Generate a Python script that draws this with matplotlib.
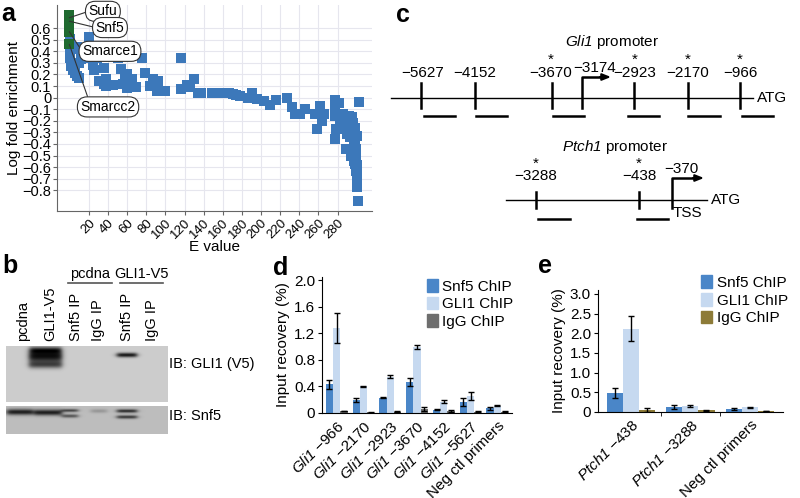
import numpy as np
import matplotlib
matplotlib.use("Agg")
import matplotlib.pyplot as plt
from matplotlib.patches import Patch
from matplotlib.ticker import FuncFormatter

plt.rcParams['font.family'] = ['Liberation Sans', 'DejaVu Sans']
# math mode is used only for italic gene names (letters and digits)
plt.rcParams['mathtext.fontset'] = 'custom'
plt.rcParams['mathtext.rm'] = 'Liberation Sans:italic'
plt.rcParams['mathtext.it'] = 'Liberation Sans:italic'

# ---------------- panel a data ----------------
hit_names = ["Sufu", "Snf5", "Smarce1", "Smarcc2"]
hit_anchor = [0.69, 0.66, 0.57, 0.46]
green_e = [-0.5, -0.5, -0.5, -0.5, -0.5]
green_lfe = [0.71, 0.67, 0.64, 0.57, 0.46]

e_vals = [0.5, 0.5, 0.5, 1.5, 3, 5, 7, 10, 8, 4, 12, 17, 20, 10, 28, 24, 25.5,
          31, 36, 38, 38, 36, 45, 50, 54, 56, 58, 60, 60, 62, 65, 69, 75, 79,
          84, 87, 88, 91.5, 92.5, 99.5, 116, 116, 123, 126, 130, 134, 137,
          148.5, 152, 161, 166, 170.5, 174, 177.5, 186, 191, 196, 203, 209.6,
          216, 227, 232, 236, 241, 246, 256, 258.6, 262, 264, 266, 277, 277,
          277, 278, 277.8, 282, 283, 286, 289, 288, 289, 290, 290, 292, 293,
          293, 294, 295, 296, 296, 297, 297, 297, 298, 298, 298, 298, 299, 299,
          299, 299, 299, 302, 300, 300, 300, 300, 300, 301]
lfe_vals = [0.51, 0.39, 0.34, 0.27, 0.24, 0.21, 0.19, 0.17, 0.44, 0.42, 0.33,
            0.34, 0.52, 0.30, 0.34, 0.28, 0.235, 0.14, 0.26, 0.16, 0.10, 0.12,
            0.11, 0.34, 0.25, 0.12, 0.17, 0.20, 0.08, 0.13, 0.16, 0.09, 0.34,
            0.21, 0.10, 0.16, 0.11, 0.06, 0.14, 0.06, 0.34, 0.075, 0.11, 0.09,
            0.16, 0.04, 0.04, 0.04, 0.04, 0.04, 0.04, 0.03, 0.02, 0.01, 0.00,
            0.04, -0.01, -0.03, -0.06, -0.02, 0.00, -0.085, -0.14, -0.14, -0.10,
            -0.14, -0.27, -0.07, -0.20, -0.14, -0.02, -0.10, -0.16, -0.27, -0.36,
            -0.05, -0.22, -0.14, -0.44, -0.18, -0.27, -0.31, -0.21, -0.16, -0.30,
            -0.34, -0.50, -0.17, -0.22, -0.29, -0.36, -0.40, -0.55, -0.26, -0.32,
            -0.41, -0.57, -0.44, -0.48, -0.52, -0.60, -0.63, -0.04, -0.33, -0.58,
            -0.65, -0.70, -0.77, -0.89]

# ---------------- panel d data ----------------
d_labels = [r"$Gli1$ −966", r"$Gli1$ −2170", r"$Gli1$ −2923",
            r"$Gli1$ −3670", r"$Gli1$ −4152", r"$Gli1$ −5627",
            "Neg ctl primers"]
d_snf5 = [0.43, 0.19, 0.23, 0.47, 0.05, 0.16, 0.07]
d_snf5_err = [0.07, 0.03, 0.01, 0.06, 0.01, 0.06, 0.02]
d_gli1 = [1.28, 0.40, 0.55, 0.99, 0.17, 0.26, 0.11]
d_gli1_err = [0.23, 0.01, 0.02, 0.03, 0.02, 0.06, 0.01]
d_igg = [0.03, 0.01, 0.02, 0.06, 0.03, 0.02, 0.02]
d_igg_err = [0.005, 0.005, 0.005, 0.03, 0.01, 0.005, 0.005]

# ---------------- panel e data ----------------
e_labels = [r"$Ptch1$ −438", r"$Ptch1$ −3288", "Neg ctl primers"]
e_snf5 = [0.48, 0.12, 0.07]
e_snf5_err = [0.12, 0.05, 0.02]
e_gli1 = [2.12, 0.16, 0.12]
e_gli1_err = [0.32, 0.03, 0.01]
e_igg = [0.05, 0.04, 0.02]
e_igg_err = [0.04, 0.005, 0.005]

# ---------------- panel c diagram ----------------
gli1_sites = ["−5627", "−4152", "−3670", "−2923", "−2170", "−966"]
gli1_star = [False, False, True, True, True, True]
ptch1_sites = ["−3288", "−438"]
ptch1_star = [True, True]

BLUE = "#4a86c8"
LIGHT = "#c6d9f0"
GREY = "#6e6e6e"
OLIVE = "#8d7b38"
SQ = "#3c78ba"
GREEN = "#1f6a30"
FS = 11

fig = plt.figure(figsize=(8, 4.98), dpi=100)

# ---------- a ----------
ax = fig.add_axes([0.071, 0.576, 0.394, 0.414])
ax.scatter(e_vals, lfe_vals, marker="s", s=52, color=SQ, zorder=3, linewidths=0)
ax.scatter(green_e, green_lfe, marker="s", s=52, color=GREEN, zorder=4, linewidths=0)
ax.set_xlim(-13.6, 316)
ax.set_ylim(-0.98, 0.80)
ax.set_xticks(np.arange(20, 281, 20))
ax.set_yticks(np.round(np.arange(-0.8, 0.61, 0.1), 1))
ax.yaxis.set_major_formatter(FuncFormatter(
    lambda v, p: "0" if abs(v) < 1e-9 else f"{v:.1f}".replace("-", "−")))
ax.grid(color="#e6e6ee", lw=0.8)
ax.set_axisbelow(True)
for s in ("top", "right"):
    ax.spines[s].set_visible(False)
for s in ("left", "bottom"):
    ax.spines[s].set_color("#666666")
ax.tick_params(axis="y", labelsize=10.5, length=3, color="#666666", pad=1)
ax.tick_params(axis="x", labelsize=9.5, length=3, color="#666666", pad=1)
plt.setp(ax.get_xticklabels(), rotation=45, ha="right", rotation_mode="anchor")
ax.set_xlabel("E value", fontsize=11, labelpad=-1)
ax.set_ylabel("Log fold enrichment", fontsize=11, labelpad=1)

callout_pos = [(34.6, 0.745), (42, 0.605), (42, 0.40), (40, -0.08)]
callout_rel = [(0, 0.5), (0, 0.5), (0, 0.5), (0.15, 1)]
for name, yv, pos, rel in zip(hit_names, hit_anchor, callout_pos, callout_rel):
    ax.annotate(name, xy=(-0.5, yv), xytext=pos, fontsize=10, ha="center", va="center",
                bbox=dict(boxstyle="round,pad=0.22,rounding_size=0.7", fc="white",
                          ec="#333333", lw=0.8),
                arrowprops=dict(arrowstyle="-", color="#333333", lw=0.8,
                                shrinkA=0, shrinkB=0, relpos=rel),
                zorder=6, annotation_clip=False)

# ---------- d / e ----------
def chip_bars(axis, labels, s, se, g, ge, i, ie, igg_color):
    x = np.arange(len(labels))
    w = 0.27
    kw = dict(capsize=2.2, error_kw=dict(elinewidth=1.0, capthick=1.0, ecolor="black"))
    axis.bar(x - w, s, w, yerr=se, color=BLUE, **kw)
    axis.bar(x, g, w, yerr=ge, color=LIGHT, **kw)
    axis.bar(x + w, i, w, yerr=ie, color=igg_color, **kw)
    axis.set_xticks(x)
    axis.set_xticklabels(labels, rotation=45, ha="right", rotation_mode="anchor",
                         fontsize=FS)
    for sp in ("top", "right"):
        axis.spines[sp].set_visible(False)
    axis.tick_params(labelsize=FS, length=3, pad=2)
    axis.tick_params(axis="x", length=0, pad=4)
    axis.set_ylabel("Input recovery (%)", fontsize=FS, labelpad=3)
    axis.set_xlim(-0.55, len(labels) - 0.45)
    handles = [Patch(color=BLUE), Patch(color=LIGHT), Patch(color=igg_color)]
    axis.legend(handles, ["Snf5 ChIP", "GLI1 ChIP", "IgG ChIP"], frameon=False,
                fontsize=FS, handlelength=0.7, handleheight=0.9, handletextpad=0.3,
                labelspacing=0.2, borderaxespad=0.0, loc="upper right",
                bbox_to_anchor=(1.04, 1.03))
    return x

axd = fig.add_axes([0.4025, 0.1707, 0.2375, 0.273])
chip_bars(axd, d_labels, d_snf5, d_snf5_err, d_gli1, d_gli1_err, d_igg, d_igg_err, GREY)
axd.set_ylim(0, 2.05)
axd.set_yticks([0, 0.4, 0.8, 1.2, 1.6, 2.0])
axd.set_yticklabels(["0", "0.4", "0.8", "1.2", "1.6", "2.0"])

axe = fig.add_axes([0.7475, 0.1727, 0.231, 0.245])
xe = chip_bars(axe, e_labels, e_snf5, e_snf5_err, e_gli1, e_gli1_err, e_igg, e_igg_err, OLIVE)
axe.set_ylim(0, 3.1)
axe.set_yticks([0, 0.5, 1.0, 1.5, 2.0, 2.5, 3.0])
axe.set_yticklabels(["0", "0.5", "1.0", "1.5", "2.0", "2.5", "3.0"])
axe.set_xticks(xe[:-1] + 0.5, minor=True)
axe.tick_params(axis="x", which="minor", length=3)
axe.legend_.set_bbox_to_anchor((1.06, 1.17))

# ---------- overlay (b, c, panel letters) ----------
ov = fig.add_axes([0, 0, 1, 1], zorder=-1)

for letter, (lx, ly) in zip("abcde", [(8, 14), (10, 266), (403, 15), (281, 268), (545, 266)]):
    ov.text(lx, ly, letter, fontsize=18, fontweight="bold", ha="center", va="center")

# b: blot images
def blot(w, h, bg, bands):
    yy, xx = np.mgrid[0:h, 0:w] + 0.5
    img = np.full((h, w), bg, dtype=float)
    for x0, x1, yc, hh, depth in bands:
        fx = 1 / (1 + np.exp(-(xx - x0) / 1.5)) / (1 + np.exp((xx - x1) / 1.5))
        fy = np.exp(-((yy - yc) / hh) ** 2)
        img -= depth * fx * fy
    return np.clip(img, 0, 1)

upper = blot(162, 56, 0.80, [(23, 56, 10, 7, 0.75), (23, 56, 19, 3.5, 0.4),
                             (24, 55, 4, 3, 0.4), (111, 131, 9, 2.3, 0.7)])
lower = blot(162, 28, 0.74, [(1, 27, 6, 3, 0.62), (28, 56, 6.5, 3, 0.62),
                             (56, 72, 4.5, 1.6, 0.45), (56, 72, 10, 1.8, 0.4),
                             (85, 101, 5, 2, 0.15), (111, 131, 5, 1.8, 0.55),
                             (111, 131, 11, 1.8, 0.5)])
ov.imshow(upper, cmap="gray", vmin=0, vmax=1, extent=(6, 168, 402, 346), aspect="auto")
ov.imshow(lower, cmap="gray", vmin=0, vmax=1, extent=(6, 168, 434, 406), aspect="auto")
ov.set_xlim(0, 800)
ov.set_ylim(498, 0)
ov.axis("off")

lane_names = ["pcdna", "GLI1-V5", "Snf5 IP", "IgG IP", "Snf5 IP", "IgG IP"]
lane_x = [23, 50, 76, 98, 127, 152]
for nm, lx in zip(lane_names, lane_x):
    ov.text(lx, 341, nm, rotation=90, ha="center", va="bottom", fontsize=10.5)
for nm, (x0, x1) in zip(["pcdna", "GLI1-V5"], [(68, 112), (120, 163)]):
    ov.text((x0 + x1) / 2, 274, nm, ha="center", va="center", fontsize=10.5)
    ov.plot([x0, x1], [283, 283], color="#555555", lw=1.2)
ov.text(169, 364, "IB: GLI1 (V5)", ha="left", va="center", fontsize=10.5)
ov.text(169, 416, "IB: Snf5", ha="left", va="center", fontsize=10.5)

# c: promoter diagrams
ov.text(612, 42, r"$Gli1$ promoter", ha="center", va="center", fontsize=FS)
ov.plot([391, 753], [98, 98], color="black", lw=1.0)
ov.text(757, 98, "ATG", ha="left", va="center", fontsize=FS)
gli1_x = [421, 475, 552, 634, 688, 740]
gli1_lx = [423, 475, 551, 635, 688, 740]
gli1_primer = [(424, 455), (476, 507), (553, 584), (628, 659), (688, 720), (742, 773)]
for site, star, x, lx, pr in zip(gli1_sites, gli1_star, gli1_x, gli1_lx, gli1_primer):
    ov.plot([x, x], [83, 108], color="black", lw=1.8)
    ov.text(lx, 73, site, ha="center", va="center", fontsize=FS)
    if star:
        ov.text(lx, 60, "*", ha="center", va="center", fontsize=11)
    ov.plot(pr, [116, 116], color="black", lw=1.8)
ov.plot([582, 582, 604], [108, 77, 77], color="black", lw=1.8)
ov.annotate("", xy=(611, 77), xytext=(600, 77),
            arrowprops=dict(arrowstyle="-|>,head_length=0.5,head_width=0.2",
                            color="black", lw=1.5, shrinkA=0, shrinkB=0))
ov.text(595, 68, "−3174", ha="center", va="center", fontsize=FS)

ov.text(615, 147, r"$Ptch1$ promoter", ha="center", va="center", fontsize=FS)
ov.plot([506, 707], [200, 200], color="black", lw=1.0)
ov.text(711, 200, "ATG", ha="left", va="center", fontsize=FS)
ptch1_x = [536, 639]
ptch1_primer = [(538, 570), (637, 668)]
for site, star, x, pr in zip(ptch1_sites, ptch1_star, ptch1_x, ptch1_primer):
    ov.plot([x, x], [192, 208], color="black", lw=1.8)
    ov.text(x, 176, site, ha="center", va="center", fontsize=FS)
    if star:
        ov.text(x, 164, "*", ha="center", va="center", fontsize=11)
    ov.plot(pr, [219, 219], color="black", lw=1.8)
ov.plot([672, 672, 697], [208, 178, 178], color="black", lw=1.8)
ov.annotate("", xy=(704, 178), xytext=(693, 178),
            arrowprops=dict(arrowstyle="-|>,head_length=0.5,head_width=0.2",
                            color="black", lw=1.5, shrinkA=0, shrinkB=0))
ov.text(681, 169, "−370", ha="center", va="center", fontsize=FS)
ov.text(673, 213, "TSS", ha="left", va="center", fontsize=FS)

fig.savefig("out.png", dpi=100)
